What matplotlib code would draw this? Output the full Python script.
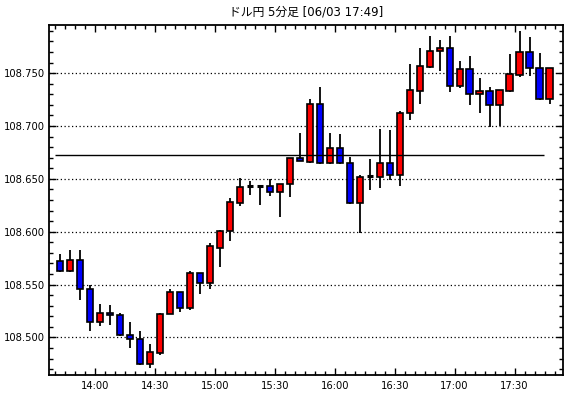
import matplotlib
matplotlib.use("Agg")
import matplotlib.pyplot as plt
from matplotlib.ticker import MultipleLocator, FixedLocator

plt.rcParams['font.family'] = ['DejaVu Sans', 'Noto Sans CJK JP']

title = "ドル円 5分足 [06/03 17:49]"

opens = [108.572, 108.563, 108.573, 108.546, 108.515, 108.523, 108.521, 108.502, 108.498, 108.475,
         108.485, 108.522, 108.543, 108.528, 108.561, 108.551, 108.585, 108.601, 108.627, 108.643,
         108.643, 108.643, 108.638, 108.645, 108.670, 108.666, 108.721, 108.665, 108.679, 108.665,
         108.627, 108.653, 108.652, 108.665, 108.654, 108.712, 108.733, 108.756, 108.771, 108.774,
         108.738, 108.754, 108.730, 108.733, 108.720, 108.733, 108.748, 108.770, 108.755, 108.726]
closes = [108.563, 108.573, 108.546, 108.515, 108.523, 108.521, 108.502, 108.498, 108.475, 108.486,
          108.522, 108.543, 108.528, 108.561, 108.551, 108.586, 108.601, 108.628, 108.642, 108.643,
          108.643, 108.638, 108.645, 108.670, 108.667, 108.721, 108.665, 108.679, 108.665, 108.627,
          108.652, 108.653, 108.665, 108.654, 108.712, 108.734, 108.757, 108.771, 108.774, 108.738,
          108.754, 108.730, 108.733, 108.720, 108.734, 108.749, 108.770, 108.755, 108.726, 108.755]
highs = [108.579, 108.583, 108.583, 108.550, 108.532, 108.531, 108.523, 108.515, 108.506, 108.494,
         108.523, 108.546, 108.543, 108.563, 108.561, 108.589, 108.602, 108.632, 108.651, 108.648,
         108.644, 108.650, 108.645, 108.670, 108.693, 108.726, 108.737, 108.693, 108.692, 108.671,
         108.654, 108.669, 108.697, 108.696, 108.714, 108.759, 108.774, 108.785, 108.781, 108.785,
         108.762, 108.766, 108.745, 108.737, 108.734, 108.768, 108.790, 108.784, 108.769, 108.755]
lows = [108.562, 108.562, 108.535, 108.506, 108.511, 108.512, 108.501, 108.490, 108.474, 108.471,
        108.483, 108.522, 108.524, 108.526, 108.541, 108.546, 108.567, 108.591, 108.624, 108.635,
        108.625, 108.634, 108.614, 108.633, 108.667, 108.665, 108.664, 108.664, 108.664, 108.626,
        108.599, 108.639, 108.641, 108.649, 108.643, 108.706, 108.721, 108.755, 108.752, 108.732,
        108.736, 108.720, 108.712, 108.699, 108.700, 108.732, 108.746, 108.747, 108.725, 108.721]

ref_level = 108.673
tick_labels = ["14:00", "14:30", "15:00", "15:30", "16:00", "16:30", "17:00", "17:30"]
y_labels = ["108.500", "108.550", "108.600", "108.650", "108.700", "108.750"]

fig = plt.figure(figsize=(5.70, 3.98), dpi=100)
ax = fig.add_axes([49/570, 1-375/398, (563-49)/570, (375-25)/398])

n = len(opens)
x = list(range(n))
w = 0.62

# wicks
ax.vlines(x, lows, highs, colors='black', linewidth=1.3, zorder=2)
for i in range(n):
    o, c = opens[i], closes[i]
    if abs(c - o) < 1e-9:
        ax.hlines(o, i - w/2, i + w/2, colors='black', linewidth=2.2, zorder=3)
    else:
        col = '#ff0000' if c > o else '#0000ff'
        ax.bar(i, abs(c - o), bottom=min(o, c), width=w, color=col,
               edgecolor='black', linewidth=1.2, zorder=3)

ax.hlines(ref_level, -0.5, 48.45, colors='black', linewidth=1.0, zorder=4)

ax.set_xlim(-1.1, 50.35)
ax.set_ylim(108.4644, 108.7956)

ytick_vals = [float(v) for v in y_labels]
ax.yaxis.set_major_locator(FixedLocator(ytick_vals))
ax.set_yticklabels(y_labels)
ax.yaxis.set_minor_locator(MultipleLocator(0.01))
xticks = [3.5 + 6*k for k in range(len(tick_labels))]
ax.xaxis.set_major_locator(FixedLocator(xticks))
ax.set_xticklabels(tick_labels)
ax.xaxis.set_minor_locator(FixedLocator([i + 0.5 for i in range(-1, 50)]))

ax.grid(axis='y', which='major', linestyle=(0, (1, 2)), color='black', linewidth=0.9)
ax.tick_params(axis='both', which='major', direction='in', length=5, width=1,
               labelsize=7.2, top=True, right=True, pad=4)
ax.tick_params(axis='y', which='major', pad=3)
ax.tick_params(axis='both', which='minor', direction='in', length=3, width=1,
               top=True, right=True)
for s in ax.spines.values():
    s.set_linewidth(1.3)

fig.text((49+563)/2/570, 1-12/398, title, ha='center', va='center', fontsize=8.5)

fig.savefig("out.png", dpi=100)
